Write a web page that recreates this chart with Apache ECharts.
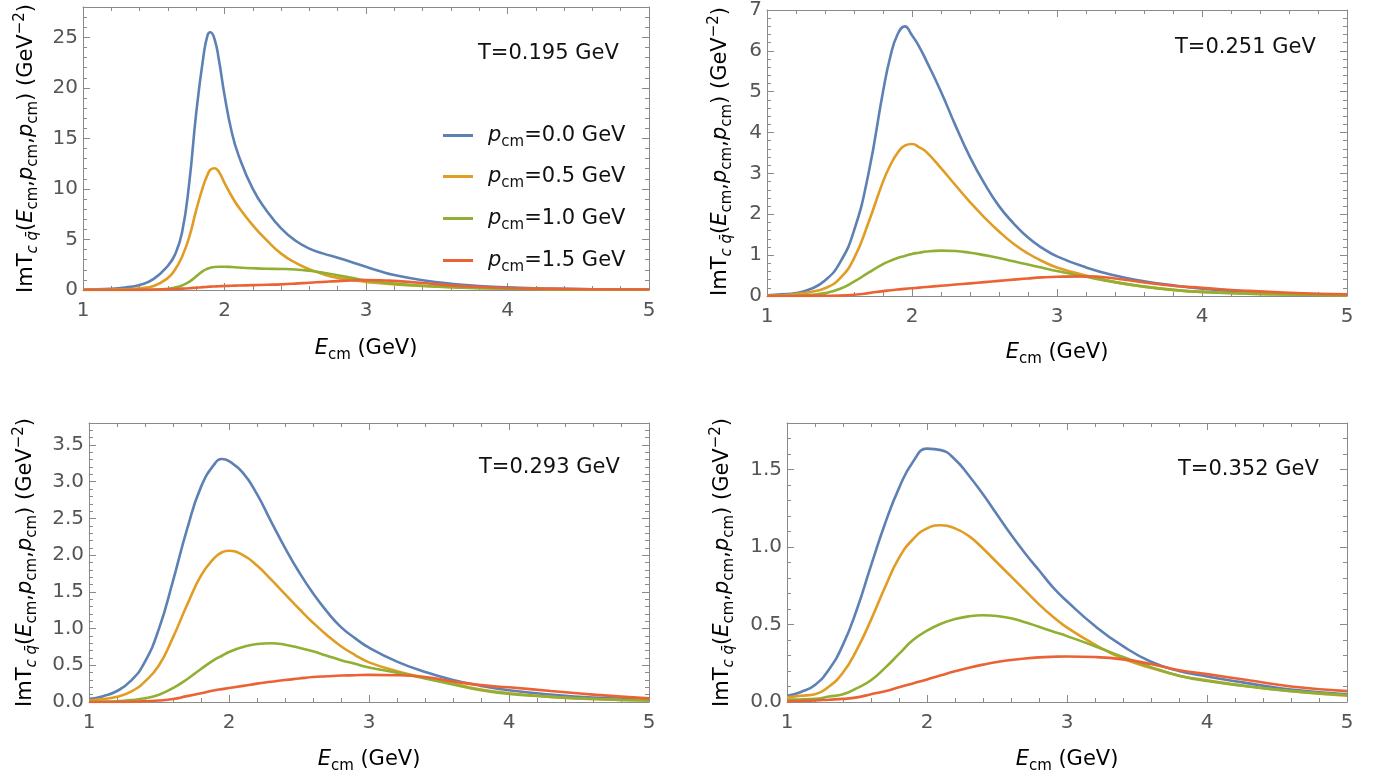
<!DOCTYPE html>
<html><head><meta charset="utf-8">
<script src="https://cdn.jsdelivr.net/npm/echarts@6/dist/echarts.min.js"></script>
<style>html,body{margin:0;padding:0;background:#fff}#c{width:1387px;height:779px}</style>
</head><body><div id="c"></div>
<script>
// ---- data ----
const temps = ['T=0.195 GeV', 'T=0.251 GeV', 'T=0.293 GeV', 'T=0.352 GeV'];
const seriesNames = ['p00', 'p05', 'p10', 'p15'];
const legendLabels = ['0.0', '0.5', '1.0', '1.5'];
const xTicks = [1, 2, 3, 4, 5];

const E1 = [1.0,1.2,1.3,1.4,1.5,1.6,1.65,1.7,1.75,1.8,1.85,1.88,1.9,1.93,1.96,2.0,2.05,2.1,2.2,2.3,2.4,2.5,2.6,2.7,2.8,2.9,3.0,3.1,3.2,3.4,3.6,3.8,4.0,4.3,4.6,5.0];
const T1_p00 = [0.05,0.12,0.25,0.5,1.1,2.4,3.5,5.7,10.5,17.5,23.0,25.2,25.5,24.8,22.8,19.3,15.7,13.3,10.0,7.8,6.1,4.9,4.1,3.6,3.2,2.75,2.3,1.85,1.48,0.97,0.62,0.4,0.26,0.14,0.08,0.04];
const T1_p05 = [0.02,0.05,0.07,0.17,0.4,1.2,2.0,3.3,5.2,7.9,10.3,11.4,11.9,12.05,11.7,10.6,9.3,8.2,6.4,4.9,3.6,2.7,2.05,1.55,1.2,1.0,0.8,0.68,0.56,0.4,0.28,0.2,0.15,0.09,0.05,0.03];
const T1_p10 = [0.005,0.005,0.008,0.01,0.04,0.13,0.25,0.45,0.8,1.35,1.9,2.1,2.2,2.28,2.3,2.3,2.27,2.22,2.15,2.1,2.08,2.03,1.9,1.7,1.45,1.2,0.95,0.78,0.63,0.42,0.28,0.19,0.13,0.08,0.05,0.03];
const T1_p15 = [0,0,0.005,0.01,0.03,0.07,0.1,0.14,0.18,0.23,0.28,0.31,0.33,0.35,0.37,0.4,0.42,0.44,0.48,0.52,0.56,0.63,0.72,0.8,0.88,0.94,0.98,0.97,0.9,0.7,0.46,0.3,0.2,0.12,0.08,0.05];

const E2 = [1.0,1.1,1.2,1.3,1.4,1.5,1.6,1.7,1.8,1.85,1.9,1.95,2.0,2.05,2.1,2.2,2.3,2.4,2.5,2.6,2.7,2.8,2.9,3.0,3.2,3.4,3.6,3.8,4.0,4.3,4.6,5.0];
const T2_p00 = [0.02,0.04,0.07,0.17,0.38,0.8,1.6,3.0,5.0,5.85,6.4,6.6,6.38,6.1,5.75,5.0,4.17,3.4,2.75,2.2,1.78,1.43,1.17,0.97,0.7,0.5,0.36,0.26,0.18,0.1,0.06,0.03];
const T2_p05 = [0.01,0.02,0.05,0.1,0.19,0.42,0.92,1.8,2.8,3.2,3.5,3.68,3.72,3.64,3.52,3.13,2.71,2.3,1.92,1.58,1.28,1.04,0.85,0.7,0.5,0.34,0.23,0.15,0.1,0.06,0.035,0.02];
const T2_p10 = [0,0.005,0.01,0.03,0.07,0.17,0.35,0.57,0.78,0.86,0.93,0.98,1.03,1.06,1.09,1.11,1.1,1.06,1.0,0.93,0.85,0.77,0.69,0.61,0.47,0.34,0.23,0.15,0.1,0.06,0.035,0.02];
const T2_p15 = [0,0,0,0.002,0.005,0.01,0.03,0.07,0.12,0.14,0.16,0.175,0.19,0.205,0.22,0.25,0.28,0.31,0.34,0.37,0.4,0.43,0.455,0.47,0.48,0.43,0.33,0.25,0.2,0.13,0.08,0.04];

const E3 = [1.0,1.1,1.2,1.3,1.4,1.5,1.6,1.7,1.8,1.9,1.95,2.0,2.1,2.2,2.3,2.4,2.5,2.6,2.7,2.8,2.9,3.0,3.2,3.4,3.6,3.8,4.0,4.3,4.6,5.0];
const T3_p00 = [0.04,0.08,0.15,0.29,0.55,1.0,1.65,2.35,2.93,3.25,3.31,3.28,3.12,2.83,2.46,2.1,1.77,1.48,1.23,1.02,0.87,0.74,0.55,0.41,0.3,0.22,0.16,0.1,0.06,0.035];
const T3_p05 = [0.02,0.04,0.07,0.14,0.28,0.5,0.88,1.32,1.72,1.97,2.04,2.06,2.0,1.86,1.67,1.47,1.27,1.08,0.91,0.76,0.64,0.54,0.42,0.33,0.25,0.17,0.12,0.07,0.04,0.02];
const T3_p10 = [0,0.005,0.01,0.025,0.05,0.1,0.19,0.31,0.45,0.58,0.63,0.68,0.75,0.79,0.8,0.78,0.74,0.69,0.63,0.57,0.52,0.47,0.4,0.32,0.24,0.16,0.11,0.07,0.04,0.02];
const T3_p15 = [0,0,0,0.003,0.01,0.02,0.04,0.08,0.12,0.16,0.175,0.19,0.22,0.25,0.275,0.3,0.32,0.34,0.35,0.36,0.365,0.37,0.365,0.34,0.28,0.23,0.2,0.15,0.1,0.05];

const E4 = [1.0,1.1,1.2,1.3,1.4,1.5,1.6,1.7,1.8,1.9,2.0,2.1,2.2,2.3,2.4,2.5,2.6,2.7,2.8,2.9,3.0,3.2,3.4,3.6,3.8,4.0,4.3,4.6,5.0];
const T4_p00 = [0.04,0.065,0.11,0.21,0.37,0.6,0.88,1.15,1.38,1.55,1.635,1.625,1.565,1.46,1.34,1.21,1.08,0.96,0.85,0.74,0.65,0.49,0.36,0.26,0.2,0.165,0.12,0.08,0.05];
const T4_p05 = [0.03,0.04,0.05,0.1,0.19,0.34,0.53,0.74,0.93,1.05,1.12,1.14,1.12,1.07,0.99,0.9,0.81,0.72,0.63,0.55,0.48,0.37,0.28,0.22,0.17,0.14,0.1,0.07,0.04];
const T4_p10 = [0.015,0.017,0.02,0.035,0.05,0.09,0.14,0.22,0.31,0.4,0.46,0.505,0.535,0.553,0.56,0.555,0.54,0.515,0.485,0.455,0.425,0.36,0.29,0.225,0.17,0.135,0.1,0.07,0.045];
const T4_p15 = [0.005,0.007,0.01,0.015,0.02,0.03,0.05,0.07,0.095,0.12,0.145,0.172,0.198,0.221,0.241,0.258,0.271,0.281,0.288,0.292,0.294,0.29,0.275,0.245,0.205,0.18,0.14,0.1,0.07];

const yMax = [28, 7, 3.8, 1.8];
const yMajor = [5, 1, 0.5, 0.5];
const yMinor = [1, 0.2, 0.1, 0.1];
const yDecimals = [0, 0, 1, 1];

// ---- layout / style ----
const panels = [
  {E: E1, ys: [T1_p00, T1_p05, T1_p10, T1_p15]},
  {E: E2, ys: [T2_p00, T2_p05, T2_p10, T2_p15]},
  {E: E3, ys: [T3_p00, T3_p05, T3_p10, T3_p15]},
  {E: E4, ys: [T4_p00, T4_p05, T4_p10, T4_p15]}
];
const gridsPx = [
  {left: 83, top: 7, width: 566, height: 283},
  {left: 767, top: 7, width: 580, height: 289},
  {left: 89, top: 423, width: 560, height: 279},
  {left: 787, top: 423, width: 560, height: 279}
];
const colors = ['#5E81B5', '#E19C24', '#8FB032', '#EB6235'];
const FONT = '"DejaVu Sans", "Liberation Sans", Arial, sans-serif';
const frameColor = '#8a8a8a';
const labelColor = '#555555';

const grid = [], xAxis = [], yAxis = [], series = [], graphic = [];
const tickLine = {color: frameColor, width: 1};

panels.forEach((p, i) => {
  grid.push(Object.assign({containLabel: false}, gridsPx[i]));
  ['bottom', 'top'].forEach(pos => {
    xAxis.push({
      gridIndex: i, type: 'value', min: 1, max: 5, interval: 1, position: pos,
      axisLine: {show: true, onZero: false, lineStyle: tickLine},
      axisTick: {show: true, inside: true, length: 7, lineStyle: tickLine},
      minorTick: {show: true, splitNumber: 5, length: 4, lineStyle: tickLine},
      splitLine: {show: false}, minorSplitLine: {show: false},
      axisLabel: {show: pos === 'bottom', margin: 11, fontSize: 20, color: labelColor, fontFamily: FONT,
        formatter: v => (xTicks.indexOf(v) >= 0 ? String(v) : '')}
    });
  });
  ['left', 'right'].forEach(pos => {
    yAxis.push({
      gridIndex: i, type: 'value', min: 0, max: yMax[i], interval: yMajor[i], position: pos,
      axisLine: {show: true, onZero: false, lineStyle: tickLine},
      axisTick: {show: true, inside: true, length: 7, lineStyle: tickLine},
      splitLine: {show: false},
      axisLabel: {show: pos === 'left', margin: 5, fontSize: 20, color: labelColor, fontFamily: FONT,
        formatter: v => {
          const k = v / yMajor[i];
          if (Math.abs(k - Math.round(k)) > 1e-6) return '';
          return v.toFixed(yDecimals[i]);
        }}
    });
    yAxis.push({
      gridIndex: i, type: 'value', min: 0, max: yMax[i], interval: yMinor[i], position: pos,
      axisLine: {show: false},
      axisTick: {show: true, inside: true, length: 4, lineStyle: tickLine},
      splitLine: {show: false},
      axisLabel: {show: false}
    });
  });
  p.ys.forEach((ys, s) => {
    series.push({
      name: seriesNames[s], type: 'line', xAxisIndex: 2 * i, yAxisIndex: 4 * i,
      data: p.E.map((x, k) => [x, ys[k]]),
      showSymbol: false, smooth: 0.5, clip: true,
      lineStyle: {color: colors[s], width: 2.6}, itemStyle: {color: colors[s]},
      emphasis: {disabled: true}, animation: false
    });
  });
});

// axis titles
const richBase = {
  n: {fontSize: 21, fontFamily: FONT, color: labelColor, lineHeight: 28},
  it: {fontSize: 21, fontFamily: FONT, color: labelColor, fontStyle: 'italic', lineHeight: 28},
  sbi: {fontSize: 15, fontFamily: FONT, color: labelColor, fontStyle: 'italic', verticalAlign: 'bottom'},
  sb: {fontSize: 15, fontFamily: FONT, color: labelColor, verticalAlign: 'bottom'},
  sp: {fontSize: 15, fontFamily: FONT, color: labelColor, verticalAlign: 'top'}
};
const yTitle = '{n|ImT}{sbi|c q\u0304}{n|(}{it|E}{sb|cm}{n|,}{it|p}{sb|cm}{n|,}{it|p}{sb|cm}{n|) (GeV}{sp|\u22122}{n|)}';
const xTitle = '{it|E}{sb|cm}{n| (GeV)}';
const yTitleX = [27, 721, 26, 723];
const xTitleY = [349, 353, 760, 760];
const tPos = [[478, 54], [1175, 48], [479, 468], [1178, 470]];
gridsPx.forEach((g, i) => {
  graphic.push({type: 'text', x: yTitleX[i], y: g.top + g.height / 2, rotation: Math.PI / 2,
    style: {text: yTitle, rich: richBase, align: 'center', verticalAlign: 'middle'}});
  graphic.push({type: 'text', x: g.left + g.width / 2, y: xTitleY[i],
    style: {text: xTitle, rich: richBase, align: 'center', verticalAlign: 'middle'}});
  graphic.push({type: 'text', x: tPos[i][0], y: tPos[i][1],
    style: {text: temps[i], font: '21px ' + FONT, fill: '#111', align: 'left', verticalAlign: 'middle'}});
});

// legends (first panel)
const legendTops = [125, 166, 208, 250];
const legend = seriesNames.map((nm, s) => ({
  show: true, data: [nm], left: 443, top: legendTops[s], padding: 0,
  icon: 'rect', itemWidth: 30, itemHeight: 3, selectedMode: false,
  formatter: () => '{it|p}{sb|cm}{k|=' + legendLabels[s] + ' GeV}',
  textStyle: {padding: [0, 0, 0, 10], rich: {
    it: {fontSize: 21, fontFamily: FONT, color: '#111', fontStyle: 'italic', lineHeight: 28},
    sb: {fontSize: 15, fontFamily: FONT, color: '#111', verticalAlign: 'bottom'},
    k: {fontSize: 21, fontFamily: FONT, color: '#111', lineHeight: 28}
  }}
}));

const chart = echarts.init(document.getElementById('c'), null, {renderer: 'canvas'});
chart.setOption({
  animation: false, backgroundColor: '#ffffff',
  grid, xAxis, yAxis, series, legend, graphic, tooltip: {show: false}
});
</script></body></html>
